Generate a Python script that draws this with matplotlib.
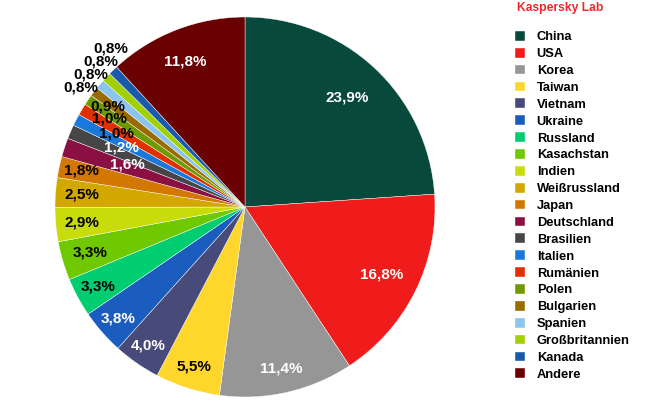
import numpy as np
import matplotlib.pyplot as plt

plt.rcParams['font.family'] = ['Liberation Sans', 'DejaVu Sans']
plt.rcParams['font.weight'] = 'bold'

# Data
countries = ['China', 'USA', 'Korea', 'Taiwan', 'Vietnam', 'Ukraine', 'Russland',
             'Kasachstan', 'Indien', 'Weißrussland', 'Japan', 'Deutschland',
             'Brasilien', 'Italien', 'Rumänien', 'Polen', 'Bulgarien', 'Spanien',
             'Großbritannien', 'Kanada', 'Andere']
shares = [23.9, 16.8, 11.4, 5.5, 4.0, 3.8, 3.3, 3.3, 2.9, 2.5, 1.8, 1.6,
          1.2, 1.0, 1.0, 0.9, 0.8, 0.8, 0.8, 0.8, 11.8]

# Styles
colors = ['#074a3c', '#f01b1b', '#969696', '#ffd62b', '#484a7a', '#1a5dbe',
          '#00cc70', '#70c800', '#c8dc0a', '#d2a800', '#d27800', '#8a1044',
          '#464646', '#1a78dc', '#e03000', '#6e9a00', '#9a6c00', '#8cc4f0',
          '#a0d000', '#1a5aaa', '#6a0000']
label_colors = ['white', 'white', 'white', 'black', 'white', 'white', 'black',
                'black', 'black', 'black', 'black', 'white', 'white', 'black',
                'black', 'black', 'black', 'black', 'black', 'black', 'white']
# label radius (fraction of pie radius) and angle shift (deg, clockwise)
label_dist = [0.79, 0.80, 0.87, 0.88, 0.89, 0.89, 0.88, 0.85, 0.86, 0.86, 0.88,
              0.66, 0.72, 0.78, 0.85, 0.895, 1.07, 1.07, 1.08, 1.09, 0.83]
label_shift = [0, 0, 0, 0, 0, 0, 0, 0, 0, 0, 0.5,
               1.7, 2.3, 2.4, 2.2, 2.1, -1.4, 0.5, 2.2, 3.7, -1.0]

fig = plt.figure(figsize=(6.5, 4.0), dpi=100)
ax = fig.add_axes([(245 - 190) / 650, (400 - 207 - 190) / 400, 380 / 650, 380 / 400])

wedges, _ = ax.pie(shares, colors=colors, startangle=90, counterclock=False,
                   radius=1.0, wedgeprops=dict(edgecolor='white', linewidth=0.3))
ax.set_xlim(-1, 1)
ax.set_ylim(-1, 1)
ax.set_aspect('equal')
ax.axis('off')

for w, val, c, d, s in zip(wedges, shares, label_colors, label_dist, label_shift):
    ang = np.deg2rad((w.theta1 + w.theta2) / 2 - s)
    ax.text(d * np.cos(ang), d * np.sin(ang), ('%.1f%%' % val).replace('.', ','),
            ha='center', va='center', color=c, fontsize=11, fontweight='bold')

fig.text(560 / 650, 1 - 8 / 400, 'Kaspersky Lab', color='#f0282d',
         fontsize=8.7, fontweight='bold', ha='center', va='center')

leg = fig.legend(wedges, countries, loc='upper left',
                 bbox_to_anchor=(515 / 650, 1 - 31 / 400), frameon=False,
                 prop=dict(size=9.3, weight='bold'), handlelength=0.78,
                 handleheight=0.78, handletextpad=0.9, labelspacing=0.35,
                 borderaxespad=0, borderpad=0)

fig.savefig('out.png', dpi=100)
